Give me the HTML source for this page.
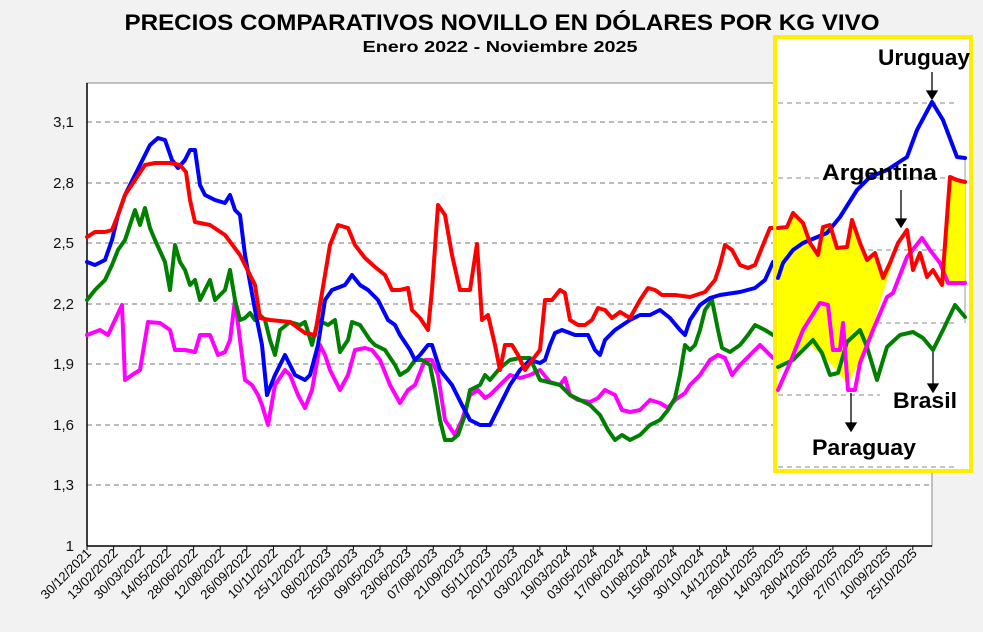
<!DOCTYPE html>
<html><head><meta charset="utf-8"><style>
html,body{margin:0;padding:0;background:#f2f2f2;}
svg{display:block;font-family:"Liberation Sans",sans-serif;}
</style></head><body>
<svg width="983" height="632" viewBox="0 0 983 632" xmlns="http://www.w3.org/2000/svg">
<rect width="983" height="632" fill="#f2f2f2"/>
<text x="502" y="30" text-anchor="middle" font-size="22" font-weight="bold" textLength="755" lengthAdjust="spacingAndGlyphs">PRECIOS COMPARATIVOS NOVILLO EN DÓLARES POR KG  VIVO</text>
<text x="500" y="52" text-anchor="middle" font-size="16" font-weight="bold" textLength="275" lengthAdjust="spacingAndGlyphs">Enero  2022 -  Noviembre 2025</text>
<rect x="87" y="83" width="845" height="463" fill="#fff" stroke="#888" stroke-width="1"/>
<g stroke="#777" stroke-dasharray="5,4" stroke-width="1">
<line x1="87" x2="932" y1="122" y2="122"/><line x1="87" x2="932" y1="183" y2="183"/>
<line x1="87" x2="932" y1="243" y2="243"/><line x1="87" x2="932" y1="304" y2="304"/>
<line x1="87" x2="932" y1="364" y2="364"/><line x1="87" x2="932" y1="425" y2="425"/>
<line x1="87" x2="932" y1="485" y2="485"/>
</g>
<line x1="87" y1="83" x2="87" y2="546" stroke="#000" stroke-width="1.5"/>
<line x1="87" y1="546" x2="932" y2="546" stroke="#000" stroke-width="1.5"/>
<g font-size="15" text-anchor="end" fill="#111">
<text x="74" y="127">3,1</text><text x="74" y="188">2,8</text><text x="74" y="248">2,5</text>
<text x="74" y="309">2,2</text><text x="74" y="369">1,9</text><text x="74" y="430">1,6</text>
<text x="74" y="490">1,3</text><text x="74" y="551">1</text>
</g>
<g font-size="13" fill="#000" text-anchor="end">
<text transform="translate(92,554) rotate(-45)">30/12/2021</text>
<text transform="translate(118.6,554) rotate(-45)">13/02/2022</text>
<text transform="translate(145.3,554) rotate(-45)">30/03/2022</text>
<text transform="translate(171.9,554) rotate(-45)">14/05/2022</text>
<text transform="translate(198.6,554) rotate(-45)">28/06/2022</text>
<text transform="translate(225.2,554) rotate(-45)">12/08/2022</text>
<text transform="translate(251.8,554) rotate(-45)">26/09/2022</text>
<text transform="translate(278.5,554) rotate(-45)">10/11/2022</text>
<text transform="translate(305.1,554) rotate(-45)">25/12/2022</text>
<text transform="translate(331.8,554) rotate(-45)">08/02/2023</text>
<text transform="translate(358.4,554) rotate(-45)">25/03/2023</text>
<text transform="translate(385,554) rotate(-45)">09/05/2023</text>
<text transform="translate(411.7,554) rotate(-45)">23/06/2023</text>
<text transform="translate(438.3,554) rotate(-45)">07/08/2023</text>
<text transform="translate(465,554) rotate(-45)">21/09/2023</text>
<text transform="translate(491.6,554) rotate(-45)">05/11/2023</text>
<text transform="translate(518.2,554) rotate(-45)">20/12/2023</text>
<text transform="translate(544.9,554) rotate(-45)">03/02/2024</text>
<text transform="translate(571.5,554) rotate(-45)">19/03/2024</text>
<text transform="translate(598.2,554) rotate(-45)">03/05/2024</text>
<text transform="translate(624.8,554) rotate(-45)">17/06/2024</text>
<text transform="translate(651.4,554) rotate(-45)">01/08/2024</text>
<text transform="translate(678.1,554) rotate(-45)">15/09/2024</text>
<text transform="translate(704.7,554) rotate(-45)">30/10/2024</text>
<text transform="translate(731.4,554) rotate(-45)">14/12/2024</text>
<text transform="translate(758,554) rotate(-45)">28/01/2025</text>
<text transform="translate(784.6,554) rotate(-45)">14/03/2025</text>
<text transform="translate(811.3,554) rotate(-45)">28/04/2025</text>
<text transform="translate(837.9,554) rotate(-45)">12/06/2025</text>
<text transform="translate(864.6,554) rotate(-45)">27/07/2025</text>
<text transform="translate(891.2,554) rotate(-45)">10/09/2025</text>
<text transform="translate(917.8,554) rotate(-45)">25/10/2025</text>
</g>
<g stroke="#000" stroke-width="1">
<path d="M87 546v4M113.6 546v4M140.3 546v4M166.9 546v4M193.6 546v4M220.2 546v4M246.8 546v4M273.5 546v4M300.1 546v4M326.8 546v4M353.4 546v4M380 546v4M406.7 546v4M433.3 546v4M460 546v4M486.6 546v4M513.2 546v4M539.9 546v4M566.5 546v4M593.2 546v4M619.8 546v4M646.4 546v4M673.1 546v4M699.7 546v4M726.4 546v4M753 546v4M779.6 546v4M806.3 546v4M832.9 546v4M859.6 546v4M886.2 546v4M912.8 546v4"/>
</g>
<g fill="none" stroke-width="4" stroke-linejoin="round" stroke-linecap="round">
<polyline stroke="#ff00ff" points="87,335 100,330 108,335 115,320 122,305 125,380 132,375 140,370 148,322 160,323 170,330 175,350 185,350 195,352 200,335 210,335 218,355 225,352 230,340 235,300 240,340 245,380 252,385 258,395 262,405 268,425 275,385 285,370 290,375 298,395 305,408 312,390 320,345 325,355 330,370 340,390 348,375 355,350 365,348 372,350 380,360 390,385 400,403 408,390 415,385 425,360 432,360 438,375 445,420 455,435 462,420 470,395 478,390 485,398 490,395 500,385 510,375 520,378 530,375 540,370 550,382 560,385 565,378 570,395 578,400 590,402 598,398 605,390 615,395 622,410 630,412 640,410 650,400 660,403 668,408 675,400 685,393 690,385 700,375 710,360 718,355 725,358 732,375 740,365 750,355 760,345 773,358"/>
<polyline stroke="#008000" points="87,300 95,290 105,280 112,265 118,250 125,240 135,210 140,225 145,208 150,228 155,240 165,262 170,290 175,245 180,262 185,270 190,285 195,280 200,300 205,290 210,280 215,300 220,295 225,290 230,270 235,300 240,320 245,318 250,313 255,320 260,315 265,320 270,340 275,355 280,330 290,322 300,325 305,322 312,345 318,320 328,325 335,320 340,352 348,340 352,322 360,325 370,340 375,345 385,350 395,365 400,375 408,370 415,360 422,360 430,365 435,390 440,420 445,440 452,440 458,435 465,415 470,390 480,385 485,375 490,380 500,368 510,360 520,358 530,358 540,380 548,382 560,385 570,395 580,400 590,405 600,415 608,430 615,440 622,435 630,440 640,435 650,425 660,420 668,410 675,398 680,375 685,345 690,350 695,345 700,330 705,310 712,300 718,330 722,348 730,352 740,345 748,335 755,325 765,330 773,335"/>
<polyline stroke="#0000ff" points="87,262 95,265 105,260 112,240 118,215 125,195 135,175 145,155 150,145 158,138 165,140 172,160 178,168 185,160 190,150 195,150 200,185 205,195 215,200 225,203 230,195 235,210 240,215 245,255 255,310 262,345 267,395 275,375 285,355 290,365 295,375 305,380 310,375 318,345 325,300 332,290 345,285 352,275 360,285 368,290 378,300 388,320 395,325 400,335 410,350 415,360 420,355 428,345 432,345 440,370 452,385 462,405 470,420 480,425 490,425 500,405 510,385 520,370 530,360 540,363 545,360 550,345 555,333 562,330 575,335 588,335 595,350 600,355 605,340 615,330 630,320 640,315 650,315 660,310 670,318 680,330 685,335 690,320 700,305 710,298 720,295 740,292 755,288 765,280 773,262"/>
<polyline stroke="#ff0000" points="87,237 95,232 105,232 112,230 118,215 125,195 135,180 145,165 155,163 170,163 180,165 186,172 190,200 195,222 210,225 225,235 240,255 255,285 260,318 270,320 290,322 305,333 315,335 320,305 330,245 338,225 348,228 355,245 365,258 375,267 385,275 392,290 400,290 408,288 412,310 420,318 428,330 432,290 438,205 445,215 452,255 460,290 470,290 477,244 482,320 488,315 495,345 500,370 505,345 512,345 518,355 525,370 530,363 540,350 545,300 552,300 560,290 565,293 570,320 578,325 585,325 592,320 598,308 605,310 612,318 620,312 630,318 640,300 648,288 655,290 662,295 675,295 690,297 705,292 715,280 720,265 725,245 732,250 740,265 748,268 755,265 765,240 770,228 778,228"/>
</g>
<rect x="775" y="37" width="196" height="434" fill="#fff" stroke="#ffee00" stroke-width="4"/>
<g stroke="#888" stroke-dasharray="5,4" stroke-width="1">
<line x1="778" x2="957" y1="103" y2="103"/><line x1="778" x2="957" y1="178" y2="178"/>
<line x1="778" x2="957" y1="250" y2="250"/><line x1="778" x2="957" y1="323" y2="323"/>
<line x1="778" x2="880" y1="395" y2="395"/><line x1="778" x2="957" y1="467" y2="467"/>
</g>
<line x1="965" y1="157" x2="965" y2="323" stroke="#999" stroke-width="1"/>
<polygon fill="#ffff00" points="778,228 787,227 793,213 803,223 810,243 818,255 823,227 830,225 837,248 847,247 852,220 860,243 867,260 875,253 883,278 893,262 873,325 860,360 848,385 838,372 825,358 810,345 795,355 778,372"/>
<polygon fill="#ffff00" points="950,177 965,182 965,283 948,283 942,285"/>
<g fill="none" stroke-width="4" stroke-linejoin="round" stroke-linecap="round">
<polyline stroke="#0000ff" points="778,278 783,263 793,250 803,243 827,233 840,217 857,190 870,177 887,170 907,157 917,130 932,102 943,120 957,157 965,158"/>
<polyline stroke="#008000" points="778,367 793,360 803,350 813,340 822,353 830,375 838,373 847,342 860,330 867,347 877,380 887,347 900,335 913,332 923,338 933,350 943,330 955,305 965,317"/>
<polyline stroke="#ff00ff" points="778,390 790,363 803,330 820,303 828,305 833,350 840,350 843,323 848,390 855,390 860,363 873,330 887,297 893,293 907,257 922,238 930,250 940,263 948,283 965,283"/>
<polyline stroke="#ff0000" points="778,228 787,227 793,213 803,223 810,243 818,255 823,227 830,225 837,248 847,247 852,220 860,243 867,260 875,253 883,278 890,263 898,243 907,230 913,270 920,253 927,277 933,270 942,285 950,177 957,180 965,182"/>
</g>
<g stroke="#000" stroke-width="1.3" fill="#000">
<line x1="932" y1="72" x2="932" y2="94"/><polygon points="927,91 937,91 932,99"/>
<line x1="901" y1="190" x2="901" y2="222"/><polygon points="896,219 906,219 901,227"/>
<line x1="933" y1="352" x2="933" y2="387"/><polygon points="928,384 938,384 933,392"/>
<line x1="851" y1="393" x2="851" y2="426"/><polygon points="846,423 856,423 851,431"/>
</g>
<g font-size="22" font-weight="bold" fill="#000">
<text x="878" y="65" textLength="92" lengthAdjust="spacingAndGlyphs">Uruguay</text>
<text x="822" y="180" textLength="115" lengthAdjust="spacingAndGlyphs">Argentina</text>
<text x="893" y="408" textLength="64" lengthAdjust="spacingAndGlyphs">Brasil</text>
<text x="812" y="455" textLength="104" lengthAdjust="spacingAndGlyphs">Paraguay</text>
</g>
</svg>
</body></html>
